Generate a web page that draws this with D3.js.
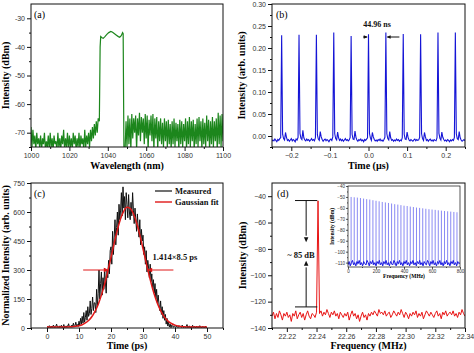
<!DOCTYPE html>
<html>
<head>
<meta charset="utf-8">
<script src="https://cdn.jsdelivr.net/npm/d3@7"></script>
<style>
body { margin: 0; background: #fff; }
.ttl { font-family: "Liberation Serif", "Times New Roman", serif; font-weight: bold; }
</style>
</head>
<body>
<div id="chart"></div>
<script>
// ---------- (a) optical spectrum (dBm), sampled every 0.5 nm ----------
var specLeftStart = 1000
var specLeft = [-68,-75,-69,-74,-71,-76,-70,-74,-72,-75,
  -71,-76,-72,-74,-70,-76,-73,-75,-71,-76,
  -70,-75,-72,-76,-71,-74,-73,-76,-70,-75,
  -72,-76,-71,-74,-69,-76,-72,-75,-70,-76,
  -71,-75,-72,-76,-70,-74,-71,-76,-72,-75,
  -70,-76,-71,-74,-72,-76,-69,-75,-71,-74,
  -70,-75,-69,-73,-68,-72,-67,-71,-66,-70,-65]
var specPeakWl = [1035.6,1036,1036.3,1037,1037.6,1038.5,1039.5,1040.5,1041.6,1042.5,1043.5,1044.5,1045.5,1046.2,1047,1047.7,1048,1048.4]
var specPeakDb = [-66,-40,-36.4,-36.8,-37,-36.4,-35.6,-35,-34.6,-34.9,-35.4,-35.9,-36.4,-36.6,-36.1,-35,-35.4,-76]
var specRightStart = 1049
var specRight = [-76,-66,-75,-64,-74,-65,-76,-63.5,-72,-65,
  -70,-64,-76,-65,-71,-63,-73,-64.5,-70,-65,
  -74,-63.5,-72,-64,-76,-65.5,-71,-64,-73,-63.5,
  -76,-65,-72,-64.5,-76,-66,-73,-65,-74,-66.5,
  -75,-65,-73,-66,-75,-65.5,-74,-67,-76,-66,
  -74,-65,-75,-66.5,-73,-67,-76,-65.5,-74,-66,
  -75,-67,-73,-65,-76,-66,-74,-64.5,-75,-66,
  -73,-65.5,-76,-67,-74,-65,-75,-64.5,-73,-66,
  -76,-65,-74,-66.5,-75,-64,-73,-65.5,-76,-66,
  -74,-64.5,-75,-66,-73,-65,-76,-63,-74,-64,
  -75,-63.5,-73]
var aTicksX = [1000,1020,1040,1060,1080,1100]
var aTicksY = [-30,-40,-50,-60,-70]

// ---------- (b) pulse train, sampled every 0.0025 us from -0.25 ----------
var trainStart = -0.25
var trainStep = 0.0025
var train = [-0.012,-0.009,-0.011,-0.007,-0.01,-0.013,-0.008,-0.01,-0.006,-0.004,
  0.229,0.004,-0.006,-0.009,0.008,-0.003,-0.01,-0.008,-0.012,-0.009,-0.006,-0.011,-0.008,-0.01,-0.013,-0.007,-0.009,-0.003,
  0.23,0.006,-0.005,-0.008,0.013,-0.004,-0.009,-0.011,-0.007,-0.01,-0.008,-0.012,-0.009,-0.006,-0.01,-0.008,-0.011,-0.004,
  0.23,0.003,-0.007,-0.01,0.01,-0.002,-0.008,-0.012,-0.009,-0.007,-0.011,-0.008,-0.01,-0.013,-0.009,-0.007,-0.01,-0.002,
  0.235,0.005,-0.006,-0.009,0.009,-0.004,-0.01,-0.007,-0.011,-0.008,-0.012,-0.009,-0.006,-0.01,-0.008,-0.011,-0.009,-0.003,
  0.227,0.004,-0.007,-0.008,0.011,-0.003,-0.009,-0.012,-0.008,-0.01,-0.007,-0.011,-0.009,-0.013,-0.008,-0.01,-0.007,-0.004,
  0.231,0.006,-0.005,-0.01,0.008,-0.002,-0.008,-0.011,-0.009,-0.012,-0.008,-0.01,-0.007,-0.011,-0.009,-0.012,-0.008,-0.003,
  0.235,0.005,-0.006,-0.009,0.01,-0.004,-0.01,-0.008,-0.012,-0.009,-0.011,-0.007,-0.01,-0.008,-0.012,-0.009,-0.011,-0.004,
  0.232,0.004,-0.007,-0.008,0.009,-0.003,-0.009,-0.011,-0.008,-0.01,-0.012,-0.009,-0.007,-0.011,-0.008,-0.01,-0.009,-0.003,
  0.231,0.005,-0.006,-0.01,0.008,-0.002,-0.01,-0.008,-0.012,-0.009,-0.007,-0.011,-0.009,-0.012,-0.008,-0.01,-0.011,-0.004,
  0.235,0.006,-0.005,-0.009,0.009,-0.003,-0.008,-0.011,-0.009,-0.012,-0.008,-0.01,-0.013,-0.009,-0.011,-0.008,-0.01,-0.003,
  0.235,0.005,-0.006,-0.008,0.01,-0.004,-0.009,-0.012,-0.01,-0.008,-0.011]
var bTicksX = [-0.2,-0.1,0.0,0.1,0.2]
var bTicksY = [0.00,0.05,0.10,0.15,0.20,0.25,0.30]

// ---------- (c) autocorrelation, measured every 0.25 ps, fit every 1 ps ----------
var acStep = 0.25
var measured = [5,8,3,12,6,2,10,4,15,7,3,9,20,5,8,2,11,6,14,4,
  7,18,3,9,5,12,8,22,6,10,4,15,9,25,7,12,30,10,18,8,
  35,15,50,20,60,25,80,30,55,90,40,110,60,75,140,70,100,160,90,130,
  130,80,200,110,180,300,150,230,290,170,260,200,310,240,180,300,260,350,280,400,
  420,330,500,380,470,560,430,520,600,480,640,560,610,700,580,730,620,680,560,700,
  640,570,690,600,560,650,580,700,610,540,620,560,500,590,520,470,560,430,510,450,
  480,380,420,330,400,290,350,310,260,330,240,280,200,250,180,230,150,200,130,170,
  120,90,140,70,110,50,90,40,70,20,50,10,30,5,20,2,15,8,4,12,
  6,3,10,5,2,12,4,8,3,15,6,2,9,4,7,18,3,5,11,2,
  6,4,14,3,8,5,2,10,4,7,3,12,5,2,8,4,6,3,9,2,5]
var gaussFit = [5,5,5,5,5,5,5,6,7,9,12,17,26,39,58,86,122,170,227,294,
  366,439,508,565,605,624,619,591,544,482,410,337,267,203,150,107,74,50,33,22,
  15,10,7,6,5,5,5,5,5,5,5]
var cTicksX = [0,10,20,30,40,50]
var cTicksY = [0,150,300,450,600,750]

// ---------- (d) RF spectrum, every 0.001 MHz from 22.21 ----------
var rfStart = 22.21
var rfStep = 0.001
var rf = [-131,-128,-133,-129,-132,-127,-130,-134,-129,-131,-128,-132,-130,-135,-129,-131,-127,-133,-130,-128,
  -132,-129,-134,-130,-127,-131,-133,-129,-130,-132,-128,
  -43.5,
  -129,-127,-131,-128,-130,-126,-129,-132,-128,-130,-127,-131,-129,-133,-128,-130,-132,-129,-131,-128,
  -134,-130,-127,-131,-129,-133,-130,-135,-131,-128,-132,-130,-134,-129,-131,-128,-130,-127,-129,-131,
  -126,-129,-128,-130,-127,-131,-129,-128,-132,-130,-127,-129,-131,-128,-130,-126,-129,-132,-128,-130,
  -133,-129,-131,-128,-130,-127,-132,-129,-131,-128,-133,-130,-127,-129,-131,-128,-130,-132,-129,-127,
  -131,-129,-133,-128,-130,-127,-131,-129,-128,-130,-127,-131,-129,-132,-128,-130,-126,-129,-131]
var dTicksX = [22.22,22.24,22.26,22.28,22.30,22.32,22.34]
var dTicksY = [-40,-60,-80,-100,-120,-140]

// inset: comb lines every 22.24 MHz, and the noise floor every 8 MHz
var combSpacing = 22.24
var combDb = [-50,-50.3,-50.6,-51,-51.5,-52,-52.4,-53,-53.5,-54,-54.6,-55,-55.5,-56,-56.6,-57,-57.5,-58,
  -58.3,-58.8,-59.2,-59.7,-60,-60.4,-60.8,-61.2,-61.5,-61.8,-62.2,-62.5,-62.8,-63.1,-63.4,-63.7,-64]
var floorStep = 8
var floorDb = [-112,-109,-113,-110,-108,-112,-110,-113,-109,-111,-108,-112,-110,-113,-109,-111,-112,-108,-110,-113,
  -109,-111,-108,-112,-110,-113,-109,-111,-108,-112,-110,-113,-109,-111,-108,-112,-110,-113,-109,-111,
  -112,-108,-110,-113,-109,-111,-108,-112,-110,-113,-109,-111,-108,-112,-110,-113,-109,-111,-108,-112,
  -110,-113,-109,-111,-108,-112,-110,-113,-109,-111,-112,-108,-110,-113,-109,-111,-108,-112,-110,-113,
  -109,-111,-108,-112,-110,-113,-109,-111,-108,-112,-110,-113,-109,-111,-108,-112,-110,-113,-109,-111,-110]
var insetTicksX = [0,200,400,600,800]
var insetTicksY = [-40,-50,-60,-70,-80,-90,-100,-110]

var W = 474, H = 353
var svg = d3.select("#chart").append("svg")
  .attr("width", W).attr("height", H)

// draws frame, ticks and tick labels for one panel
function drawAxes(box, x, y, o) {
  var g = svg.append("g")
  var fs = o.fs || 7, tl = o.tl || 4
  g.append("g")
    .attr("transform", "translate(0," + box.b + ")")
    .call(d3.axisBottom(x).tickValues(o.xt).tickSize(tl).tickSizeOuter(0).tickPadding(o.pad || 2).tickFormat(o.xf))
  g.append("g")
    .attr("transform", "translate(0," + box.b + ")")
    .call(d3.axisBottom(x).tickValues(o.xm).tickSize(tl / 2).tickSizeOuter(0).tickFormat(""))
  g.append("g")
    .attr("transform", "translate(" + box.l + ",0)")
    .call(d3.axisLeft(y).tickValues(o.yt).tickSize(tl).tickSizeOuter(0).tickPadding(o.pad || 2).tickFormat(o.yf))
  g.append("g")
    .attr("transform", "translate(" + box.l + ",0)")
    .call(d3.axisLeft(y).tickValues(o.ym).tickSize(tl / 2).tickSizeOuter(0).tickFormat(""))
  g.selectAll(".domain").remove()
  g.selectAll(".tick line").attr("stroke", "#111").attr("stroke-width", o.tw || 1)
  g.selectAll(".tick text").attr("font-family", "'Liberation Sans', Arial, sans-serif")
    .attr("font-size", fs).attr("fill", "#333")
  g.append("rect")
    .attr("x", box.l).attr("y", box.t)
    .attr("width", box.r - box.l).attr("height", box.b - box.t)
    .attr("fill", "none").attr("stroke", "#111").attr("stroke-width", o.tw || 1)
  return g
}

function clip(id, box) {
  svg.append("clipPath").attr("id", id).append("rect")
    .attr("x", box.l).attr("y", box.t)
    .attr("width", box.r - box.l).attr("height", box.b - box.t)
  return "url(#" + id + ")"
}

function title(txt, cx, cy, rot, size) {
  svg.append("text").attr("class", "ttl")
    .attr("text-anchor", "middle")
    .attr("font-size", size || 10)
    .attr("transform", "translate(" + cx + "," + cy + ")" + (rot ? "rotate(-90)" : ""))
    .text(txt)
}

function label(txt, px, py, size, anchor, color) {
  svg.append("text").attr("class", "ttl")
    .attr("x", px).attr("y", py)
    .attr("font-size", size)
    .attr("text-anchor", anchor || "start")
    .attr("fill", color || "#111")
    .text(txt)
}

function arrowHead(px, py, dir, size, color) {
  // dir: "r", "l", "u", "d"
  var s = size, h = s * 0.45, p
  if (dir == "r") p = [[px, py], [px - s, py - h], [px - s, py + h]]
  if (dir == "l") p = [[px, py], [px + s, py - h], [px + s, py + h]]
  if (dir == "d") p = [[px, py], [px - h, py - s], [px + h, py - s]]
  if (dir == "u") p = [[px, py], [px - h, py + s], [px + h, py + s]]
  svg.append("path").attr("d", "M" + p.join("L") + "Z").attr("fill", color || "#111")
}

function panelTag(txt, px, py) {
  svg.append("text").attr("x", px).attr("y", py).attr("font-family", "'Liberation Serif', serif")
    .attr("font-size", 10).text(txt)
}

// ================= (a) =================
var A = {l: 31, t: 4, r: 223, b: 147}
var xa = d3.scaleLinear().domain([1000, 1100]).range([A.l, A.r])
var ya = d3.scaleLinear().domain([-75, -25]).range([A.b, A.t])
var specData = []
specLeft.forEach(function(v, i) { specData.push([specLeftStart + i * 0.5, v]) })
specPeakWl.forEach(function(w, i) { specData.push([w, specPeakDb[i]]) })
specRight.forEach(function(v, i) { specData.push([specRightStart + i * 0.5, v]) })

svg.append("path")
  .datum(specData)
  .attr("clip-path", clip("clipA", A))
  .attr("fill", "none")
  .attr("stroke", "#1c861c")
  .attr("stroke-width", 1.2)
  .attr("d", d3.line().x(function(d) { return xa(d[0]) }).y(function(d) { return ya(d[1]) }))

drawAxes(A, xa, ya, {
  xt: aTicksX, xm: d3.range(1010, 1100, 20), xf: d3.format("d"),
  yt: aTicksY, ym: [-35, -45, -55, -65, -75], yf: function(d) { return d }
})
title("Wavelength (nm)", (A.l + A.r) / 2, 169)
title("Intensity (dBm)", 9, (A.t + A.b) / 2, true)
panelTag("(a)", 34, 18)

// ================= (b) =================
var B = {l: 272, t: 4, r: 465, b: 147}
var xb = d3.scaleLinear().domain([-0.25, 0.25]).range([B.l, B.r])
var yb = d3.scaleLinear().domain([-0.025, 0.30]).range([B.b, B.t])
svg.append("path")
  .datum(train)
  .attr("clip-path", clip("clipB", B))
  .attr("fill", "none")
  .attr("stroke", "#1515d6")
  .attr("stroke-width", 1.1)
  .attr("d", d3.line().x(function(d, i) { return xb(trainStart + i * trainStep) }).y(function(d) { return yb(d) }))

drawAxes(B, xb, yb, {
  xt: bTicksX, xm: [-0.25, -0.15, -0.05, 0.05, 0.15, 0.25], xf: d3.format(".1f"),
  yt: bTicksY, ym: [-0.025, 0.025, 0.075, 0.125, 0.175, 0.225, 0.275], yf: d3.format(".2f")
})
title("Time (\u00b5s)", (B.l + B.r) / 2, 169)
title("Intensity (arb. units)", 245, (B.t + B.b) / 2, true)
panelTag("(b)", 276, 18)
// period annotation
label("44.96 ns", xb(0.022), 27, 8, "middle")
svg.append("line").attr("x1", xb(-0.014)).attr("x2", xb(-0.004)).attr("y1", yb(0.225)).attr("y2", yb(0.225))
  .attr("stroke", "#111").attr("stroke-width", 1)
arrowHead(xb(-0.002), yb(0.225), "r", 4)
svg.append("line").attr("x1", xb(0.08)).attr("x2", xb(0.049)).attr("y1", yb(0.225)).attr("y2", yb(0.225))
  .attr("stroke", "#111").attr("stroke-width", 1)
arrowHead(xb(0.047), yb(0.225), "l", 4)

// ================= (c) =================
var C = {l: 31, t: 183, r: 223, b: 328}
var xc = d3.scaleLinear().domain([-5, 55]).range([C.l, C.r])
var yc = d3.scaleLinear().domain([0, 750]).range([C.b, C.t])
var clipC = clip("clipC", C)
svg.append("path")
  .datum(measured)
  .attr("clip-path", clipC)
  .attr("fill", "none")
  .attr("stroke", "#111")
  .attr("stroke-width", 1)
  .attr("d", d3.line().x(function(d, i) { return xc(i * acStep) }).y(function(d) { return yc(d) }))
svg.append("path")
  .datum(gaussFit)
  .attr("clip-path", clipC)
  .attr("fill", "none")
  .attr("stroke", "#e01818")
  .attr("stroke-width", 1.5)
  .attr("d", d3.line().x(function(d, i) { return xc(i) }).y(function(d) { return yc(d) }).curve(d3.curveMonotoneX))

drawAxes(C, xc, yc, {
  xt: cTicksX, xm: [-5, 5, 15, 25, 35, 45, 55], xf: d3.format("d"),
  yt: cTicksY, ym: [75, 225, 375, 525, 675], yf: d3.format("d")
})
title("Time (ps)", (C.l + C.r) / 2, 349)
title("Normalized Intensity (arb. units)", 9, (C.t + C.b) / 2, true)
panelTag("(c)", 34, 197)
// legend
svg.append("line").attr("x1", 155).attr("x2", 172).attr("y1", 191).attr("y2", 191).attr("stroke", "#111").attr("stroke-width", 1.2)
label("Measured", 175, 194, 8.5)
svg.append("line").attr("x1", 155).attr("x2", 172).attr("y1", 202).attr("y2", 202).attr("stroke", "#e01818").attr("stroke-width", 1.4)
label("Gaussian fit", 175, 205, 8.5)
// FWHM arrows
svg.append("line").attr("x1", xc(11.3)).attr("x2", xc(17.8)).attr("y1", yc(300)).attr("y2", yc(300)).attr("stroke", "#e01818").attr("stroke-width", 1)
arrowHead(xc(19.3), yc(300), "r", 5, "#e01818")
svg.append("line").attr("x1", xc(39.5)).attr("x2", xc(32.8)).attr("y1", yc(300)).attr("y2", yc(300)).attr("stroke", "#e01818").attr("stroke-width", 1)
arrowHead(xc(31.3), yc(300), "l", 5, "#e01818")
label("1.414\u00d78.5 ps", xc(40), 260, 8.5, "middle")

// ================= (d) =================
var D = {l: 272, t: 183, r: 465, b: 328}
var xd = d3.scaleLinear().domain([22.21, 22.34]).range([D.l, D.r])
var yd = d3.scaleLinear().domain([-140, -30]).range([D.b, D.t])
svg.append("path")
  .datum(rf)
  .attr("clip-path", clip("clipD", D))
  .attr("fill", "none")
  .attr("stroke", "#e81414")
  .attr("stroke-width", 1)
  .attr("d", d3.line().x(function(d, i) { return xd(rfStart + i * rfStep) }).y(function(d) { return yd(d) }))

drawAxes(D, xd, yd, {
  xt: dTicksX, xm: [22.21, 22.23, 22.25, 22.27, 22.29, 22.31, 22.33], xf: d3.format(".2f"),
  yt: dTicksY, ym: [-50, -70, -90, -110, -130], yf: d3.format("d")
})
title("Frequency (MHz)", (D.l + D.r) / 2, 349)
title("Intensity (dBm)", 246, (D.t + D.b) / 2, true)
panelTag("(d)", 277, 197)
// ~85 dB marker
svg.append("line").attr("x1", xd(22.2255)).attr("x2", xd(22.2405)).attr("y1", yd(-43.3)).attr("y2", yd(-43.3)).attr("stroke", "#111")
svg.append("line").attr("x1", xd(22.2255)).attr("x2", xd(22.2405)).attr("y1", yd(-124)).attr("y2", yd(-124)).attr("stroke", "#111")
svg.append("line").attr("x1", xd(22.233)).attr("x2", xd(22.233)).attr("y1", yd(-43.3)).attr("y2", yd(-70)).attr("stroke", "#111")
arrowHead(xd(22.233), yd(-75), "d", 5)
svg.append("line").attr("x1", xd(22.233)).attr("x2", xd(22.233)).attr("y1", yd(-124)).attr("y2", yd(-94)).attr("stroke", "#111")
arrowHead(xd(22.233), yd(-89), "u", 5)
label("~ 85 dB", xd(22.2295), 258, 8.5, "middle")

// inset
var I = {l: 348, t: 186, r: 460, b: 267}
var xi = d3.scaleLinear().domain([0, 800]).range([I.l, I.r])
var yi = d3.scaleLinear().domain([-114, -40]).range([I.b, I.t])
svg.append("rect").attr("x", I.l).attr("y", I.t).attr("width", I.r - I.l).attr("height", I.b - I.t).attr("fill", "#fff")
var gi = svg.append("g").attr("clip-path", clip("clipI", I))
gi.selectAll(".comb")
  .data(combDb)
  .enter().append("line")
  .attr("x1", function(d, i) { return xi((i + 1) * combSpacing) })
  .attr("x2", function(d, i) { return xi((i + 1) * combSpacing) })
  .attr("y1", yi(-112)).attr("y2", function(d) { return yi(d) })
  .attr("stroke", "#6b6bf0").attr("stroke-width", 0.8)
gi.append("path")
  .datum(floorDb)
  .attr("fill", "none").attr("stroke", "#1a1ae0").attr("stroke-width", 1)
  .attr("d", d3.line().x(function(d, i) { return xi(i * floorStep) }).y(function(d) { return yi(d) }))
drawAxes(I, xi, yi, {
  xt: insetTicksX, xm: [100, 300, 500, 700], xf: d3.format("d"),
  yt: insetTicksY, ym: [-45, -55, -65, -75, -85, -95, -105], yf: d3.format("d"),
  fs: 4.5, tl: 2, pad: 1, tw: 0.7
})
title("Frequency (MHz)", (I.l + I.r) / 2, 278, false, 5.5)
title("Intensity (dBm)", 334, (I.t + I.b) / 2, true, 5.5)
</script>
</body>
</html>
